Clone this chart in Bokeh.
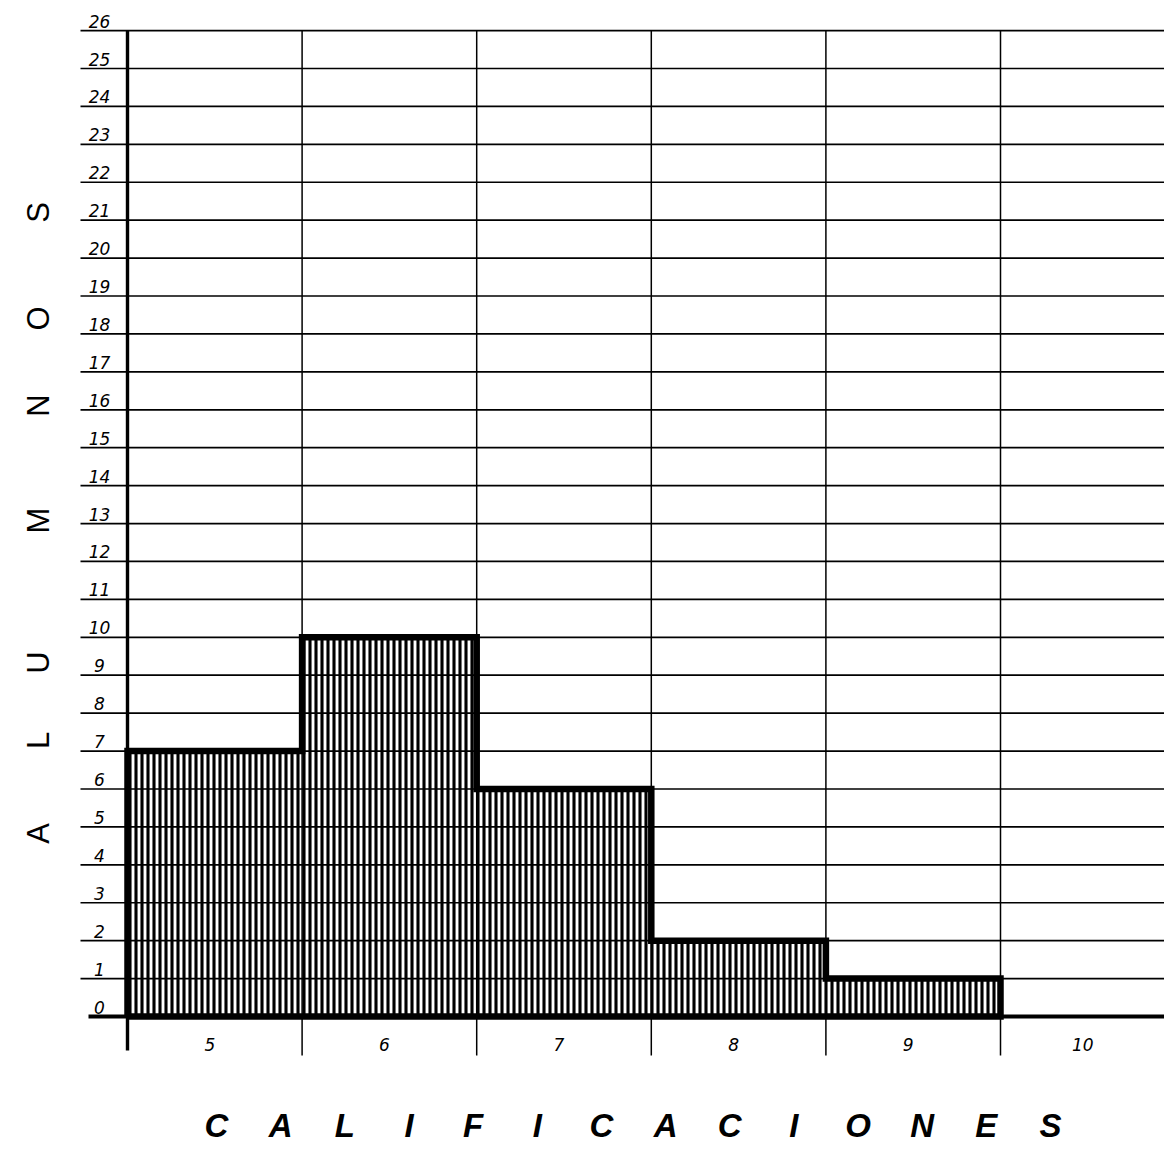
import math
from bokeh.plotting import figure
from bokeh.models import ColumnDataSource, Range1d
from bokeh.core.properties import value
from bokeh.embed import file_html
from bokeh.resources import INLINE

# ---------------- data ----------------
grades = [5, 6, 7, 8, 9, 10]
alumnos = [7, 10, 6, 2, 1, 0]
y_ticks = list(range(0, 27))
y_tick_labels = [str(v) for v in y_ticks]
x_tick_labels = [str(g) for g in grades]
x_title_letters = list("CALIFICACIONES")
y_title_letters = list("ALUMNOS")

# ---------------- layout ----------------
W, H = 1164, 1144
PX_X = 174.6          # pixels per grade
PX_Y = 37.92          # pixels per student
AXIS_PX = 127         # left axis position (px from figure left)
BASE_PX = 1016        # baseline position (px from figure top)

lo = grades[0] - 0.5
x_start = lo - AXIS_PX / PX_X
x_end = x_start + W / PX_X
y_end = BASE_PX / PX_Y
y_start = y_end - H / PX_Y

def px_x(px):
    return x_start + px / PX_X

def px_y(px):
    return y_end - px / PX_Y

p = figure(width=W, height=H, x_range=Range1d(x_start, x_end),
           y_range=Range1d(y_start, y_end), output_backend="svg",
           toolbar_location=None, x_axis_location=None, y_axis_location=None,
           min_border=0, background_fill_color="white",
           border_fill_color="white")
p.outline_line_color = None
p.grid.visible = False

lefts = [g - 0.5 for g in grades]
rights = [g + 0.5 for g in grades]
top_v = y_ticks[-1]

# hatched bars
src = ColumnDataSource(dict(left=lefts, right=rights, top=alumnos,
                            bottom=[0] * len(grades)))
p.quad(left="left", right="right", top="top", bottom="bottom", source=src,
       fill_color="white", fill_alpha=0.0, line_color=None,
       hatch_pattern="vertical_line", hatch_color="black",
       hatch_scale=6.0, hatch_weight=3.1)

# horizontal rulings
hv = [v for v in y_ticks if v > 0]
p.segment(x0=[px_x(80)] * len(hv), x1=[x_end] * len(hv), y0=hv, y1=hv,
          line_color="black", line_width=1.7)

# vertical rulings
p.segment(x0=rights, x1=rights, y0=[top_v] * len(rights),
          y1=[px_y(1055)] * len(rights), line_color="black", line_width=1.5)
# left axis
p.segment(x0=[lo], x1=[lo], y0=[top_v], y1=[px_y(1050)],
          line_color="black", line_width=3.4)
# baseline
p.segment(x0=[px_x(88)], x1=[x_end], y0=[0], y1=[0],
          line_color="black", line_width=4)

# step outline of histogram
sx, sy = [lefts[0]], [0]
nz = [i for i, c in enumerate(alumnos) if c > 0]
last = nz[-1]
for i in range(last + 1):
    sx += [lefts[i], rights[i]]
    sy += [alumnos[i], alumnos[i]]
sx += [rights[last], lefts[0]]
sy += [0, 0]
p.line(sx, sy, line_color="black", line_width=6.5, line_join="miter")

# y tick labels (above each ruling, left of axis)
p.text(x=[lo] * len(y_ticks), y=y_ticks, text=y_tick_labels,
       x_offset=-28, y_offset=-3, text_align="center",
       text_baseline="bottom", text_font=value("DejaVu Sans"),
       text_font_style="italic", text_font_size="17px", text_color="black")

# x tick labels
p.text(x=grades, y=[0] * len(grades), text=x_tick_labels,
       x_offset=-5, y_offset=28, text_align="center",
       text_baseline="middle", text_font=value("DejaVu Sans"),
       text_font_style="italic", text_font_size="17px", text_color="black")

# y title letters (rotated)
y_letter_px = [833, 740, 662, 520, 405, 318, 212]
p.text(x=[px_x(38)] * len(y_title_letters),
       y=[px_y(v) for v in y_letter_px], text=y_title_letters,
       angle=math.pi / 2, text_align="center", text_baseline="middle",
       text_font=value("Liberation Sans"), text_font_size="31px",
       text_color="black")

# x title letters
n = len(x_title_letters)
x0p, x1p = 216, 1050
xt = [px_x(x0p + i * (x1p - x0p) / (n - 1)) for i in range(n)]
p.text(x=xt, y=[px_y(1125)] * n, text=x_title_letters,
       text_align="center", text_baseline="middle",
       text_font=value("Liberation Sans"), text_font_style="bold italic",
       text_font_size="33px", text_color="black")

open("out.html", "w").write(file_html(p, INLINE))
